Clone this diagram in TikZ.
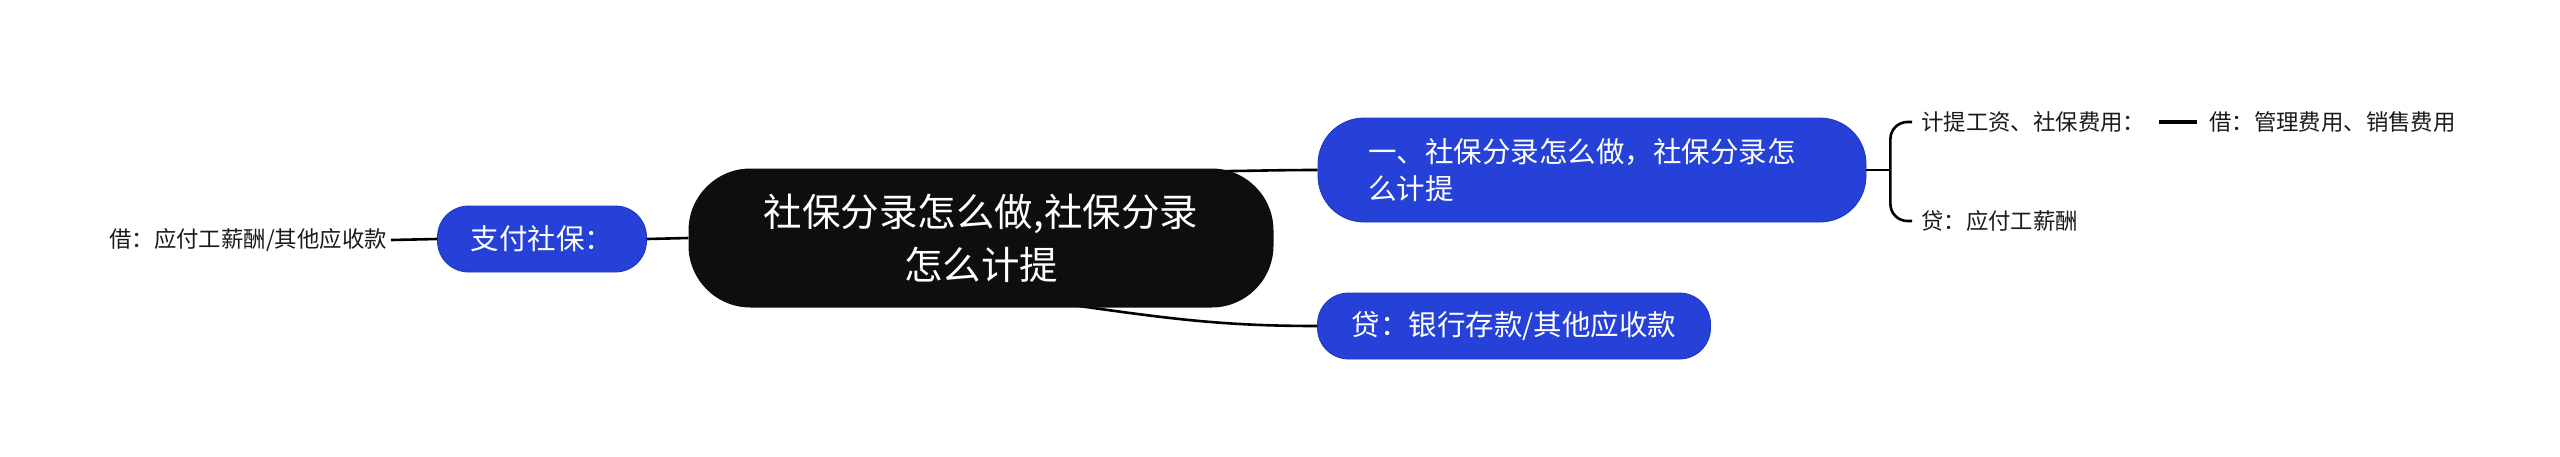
\documentclass[tikz,border=0pt]{standalone}
\usepackage{fontspec}
\setmainfont{Noto Sans CJK SC}
\usetikzlibrary{backgrounds}
\definecolor{mapblue}{HTML}{2541D8}
\definecolor{mapedge}{HTML}{1C36B8}
\definecolor{mapblack}{HTML}{0E0E0E}
\definecolor{leafgray}{HTML}{1A1A1A}

\begin{document}
\begin{tikzpicture}[x=1pt, y=-1pt,
  rootbox/.style={fill=mapblack, text=white, align=center, inner sep=0pt,
    minimum width=585pt, minimum height=139pt, rounded corners=62pt,
    font=\fontsize{38.5}{53}\selectfont},
  topicbox/.style={fill=mapblue, draw=mapedge, line width=0.8pt, text=white,
    inner sep=0pt, minimum height=66pt, rounded corners=31pt,
    font=\fontsize{28.5}{37}\selectfont},
  leaf/.style={text=leafgray, inner sep=4pt, font=\fontsize{22.4}{26}\selectfont},
  link/.style={line width=2.6pt, black}]
  \useasboundingbox (0,0) rectangle (2560,456);

  % ---------------- centre ----------------
  \node[rootbox] (root) at (981,238) {社保分录怎么做,社保分录\\怎么计提};

  % ---------------- left branch ----------------
  \node[topicbox, minimum width=209pt] (pay) at (542,239) {支付社保：};
  \node[leaf, anchor=east] (paydebit) at (391,240) {借：应付工薪酬/其他应收款};
  \draw[link] (paydebit.east) -- (pay.west);
  \draw[link] (pay.east) -- (root.west);

  % ---------------- right branches ----------------
  \node[topicbox, minimum height=104pt, rounded corners=46pt, text width=448pt,
    inner xsep=50pt, align=left] (howto) at (1592,170)
    {一、社保分录怎么做，社保分录怎\\么计提};
  \node[topicbox, minimum width=393pt] (credit) at (1514,326) {贷：银行存款/其他应收款};
  \begin{scope}[on background layer]
    \draw[link] ([xshift=-80pt, yshift=-3pt]root.north east) to[out=0, in=180] (howto.west);
    \draw[link] ([xshift=96pt, yshift=2pt]root.south) to[out=-8, in=180] (credit.west);
  \end{scope}

  % ---------------- accrual leaves ----------------
  \node[leaf, anchor=west] (accrue) at (1917,122) {计提工资、社保费用：};
  \node[leaf, anchor=west] (accruecredit) at (1917,221) {贷：应付工薪酬};
  \node[leaf, anchor=west] (accruedebit) at (2205,122) {借：管理费用、销售费用};
  \coordinate (fork) at ([xshift=24pt]howto.east);
  \draw[link] (howto.east) -- (fork);
  \draw[link, rounded corners=17pt] ([xshift=-5pt]accrue.west) -| (fork)
    |- ([xshift=-5pt]accruecredit.west);
  \draw[link, line width=3.2pt, shorten <=10pt, shorten >=8pt] (accrue.east) -- (accruedebit.west);
\end{tikzpicture}
\end{document}
